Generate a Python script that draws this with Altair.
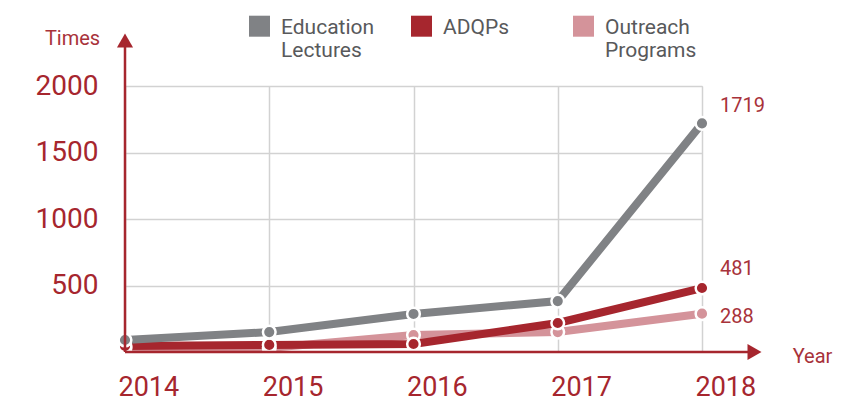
import altair as alt
import pandas as pd

years = [2014, 2015, 2016, 2017, 2018]
education = [90, 150, 286, 383, 1719]
adqps = [45, 53, 60, 218, 481]
outreach = [30, 30, 128, 150, 288]
series = ["Education Lectures", "ADQPs", "Outreach Programs"]
colors = ["#808285", "#a6262e", "#d4939a"]
y_ticks = [500, 1000, 1500, 2000]

RED = "#a6262e"
TEXT_RED = "#a8323a"
FONT = "Roboto"

rows = []
for name, vals in zip(series, [education, adqps, outreach]):
    for yr, v in zip(years, vals):
        rows.append({"year": yr, "value": v, "series": name})
df = pd.DataFrame(rows)

xscale = alt.Scale(domain=[2014, 2018], nice=False, zero=False)
yscale = alt.Scale(domain=[0, 2000], nice=False)
cscale = alt.Scale(domain=series, range=colors)

legend = alt.Legend(
    title=None, orient="none", legendX=124, legendY=-80, columns=3,
    gridAlign="all", columnPadding=36,
    symbolType="M-1,-0.1H1V1.9H-1Z", symbolSize=441, symbolStrokeWidth=0,
    symbolOpacity=1,
    labelExpr="length(split(datum.label, ' ')) > 1 ? split(datum.label, ' ') : [datum.label, ' ']",
    labelBaseline="top",
    labelFont=FONT, labelFontSize=21, labelColor="#58595b", labelOffset=11,
    labelLimit=200, padding=0,
)

xaxis = alt.Axis(
    values=years, format="d", domain=False, ticks=False, grid=True,
    gridColor="#d2d2d2", gridWidth=1.5,
    labelFont=FONT, labelFontSize=27, labelColor=RED, labelAlign="left",
    labelOffset=-7, labelBaseline="alphabetic", labelPadding=43,
    title="Year", titleFont=FONT, titleFontSize=20, titleFontWeight="normal",
    titleColor=TEXT_RED, titleX=687, titleY=4, titleAlign="center",
    titleBaseline="middle",
)
yaxis = alt.Axis(
    values=y_ticks, format="d", domain=False, ticks=False, grid=True,
    gridColor="#d2d2d2", gridWidth=1.5,
    labelFont=FONT, labelFontSize=28, labelColor=RED, labelPadding=27,
    labelBaseline="middle",
    title="Times", titleFont=FONT, titleFontSize=20, titleFontWeight="normal",
    titleColor=TEXT_RED, titleAngle=0, titleX=-53, titleY=-48,
    titleAlign="center", titleBaseline="middle",
)

base = alt.Chart(df)
enc = dict(
    x=alt.X("year:Q", scale=xscale, axis=xaxis),
    y=alt.Y("value:Q", scale=yscale, axis=yaxis),
    color=alt.Color("series:N", scale=cscale, legend=legend),
)

draw_order = ["Outreach Programs", "ADQPs", "Education Lectures"]
lines = [
    base.transform_filter(alt.datum.series == s)
    .mark_line(strokeWidth=8, strokeCap="butt")
    .encode(**enc)
    for s in draw_order
]
points = [
    base.transform_filter(alt.datum.series == s)
    .mark_point(filled=True, size=160, opacity=1, stroke="white", strokeWidth=2.5)
    .encode(x=enc["x"], y=enc["y"], fill=alt.Fill("series:N", scale=cscale, legend=None))
    for s in draw_order
]

label_dy = {"Education Lectures": -17, "ADQPs": -19, "Outreach Programs": 3}
labels = [
    base.transform_filter((alt.datum.series == s) & (alt.datum.year == 2018))
    .mark_text(align="left", baseline="middle", dx=18, dy=label_dy[s],
               font=FONT, fontSize=20, color=TEXT_RED)
    .encode(x=enc["x"], y=enc["y"], text=alt.Text("value:Q", format="d"))
    for s in draw_order
]

one = alt.Data(values=[{}])
Y_ARROW_END = 2300
Y_ARROW_HEAD = 2342
X_ARROW_END = 2018.32
X_ARROW_HEAD = 2018.364

y_rule = alt.Chart(one).mark_rule(color=RED, strokeWidth=2.5).encode(
    x=alt.datum(2014, scale=xscale), y=alt.datum(0, scale=yscale), y2=alt.datum(Y_ARROW_END))
x_rule = alt.Chart(one).mark_rule(color=RED, strokeWidth=2.5).encode(
    x=alt.datum(2014, scale=xscale), x2=alt.datum(X_ARROW_END), y=alt.datum(0, scale=yscale))
y_head = alt.Chart(one).mark_point(shape="triangle-up", filled=True, size=260, color=RED, opacity=1).encode(
    x=alt.datum(2014, scale=xscale), y=alt.datum(Y_ARROW_HEAD, scale=yscale))
x_head = alt.Chart(one).mark_point(shape="triangle-right", filled=True, size=260, color=RED, opacity=1).encode(
    x=alt.datum(X_ARROW_HEAD, scale=xscale), y=alt.datum(0, scale=yscale))

chart = alt.layer(*lines, *points, *labels, y_rule, x_rule, y_head, x_head).properties(
    width=577, height=266,
    autosize=alt.AutoSizeParams(type="none"),
    padding={"left": 117, "top": 78, "right": 132, "bottom": 52},
).configure_view(stroke=None).configure(font=FONT)

chart.save("out.html", embed_options={"renderer": "svg", "actions": False})
